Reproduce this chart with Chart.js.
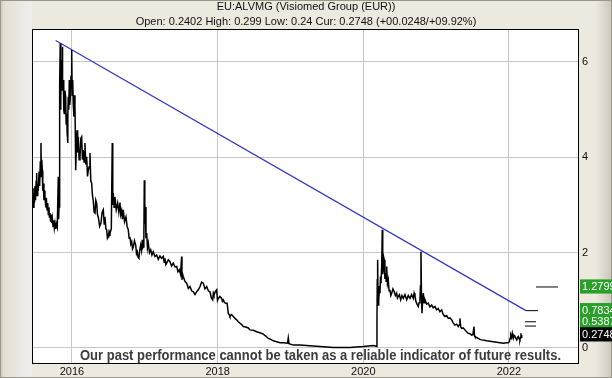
<!DOCTYPE html>
<html>
<head>
<meta charset="utf-8">
<script src="https://cdn.jsdelivr.net/npm/chart.js@4.4.4/dist/chart.umd.min.js"></script>
<style>
  html, body { margin: 0; padding: 0; background: #ece9de; }
  #wrap { width: 612px; height: 378px; }
</style>
</head>
<body>
<div id="wrap"><canvas id="chart" width="612" height="378"></canvas></div>
<script>
// ── Data ────────────────────────────────────────────────────────────────────
const titleLines = [
  'EU:ALVMG (Visiomed Group (EUR))',
  'Open: 0.2402 High: 0.299 Low: 0.24 Cur: 0.2748 (+00.0248/+09.92%)',
];
const footerText = 'Our past performance cannot be taken as a reliable indicator of future results.';

const xTickYears  = [2016, 2018, 2020, 2022];
const yTickValues = [0, 2, 4, 6];

// price: [decimal year, EUR]
const pricePoints = [
  [2015.447, 3.17], [2015.455, 2.95], [2015.462, 3.25], [2015.470, 2.95], [2015.478, 3.35],
  [2015.485, 3.05], [2015.493, 3.40], [2015.500, 3.10], [2015.508, 3.50], [2015.515, 3.67],
  [2015.522, 3.20], [2015.530, 3.45], [2015.537, 3.30], [2015.548, 3.70], [2015.556, 3.40],
  [2015.565, 3.90], [2015.574, 4.30], [2015.580, 3.60], [2015.586, 3.95], [2015.592, 3.73],
  [2015.599, 3.30], [2015.606, 3.45], [2015.615, 3.10], [2015.622, 3.30], [2015.629, 3.17],
  [2015.640, 2.95], [2015.648, 3.15], [2015.657, 2.90], [2015.666, 3.04], [2015.675, 2.80],
  [2015.684, 2.95], [2015.690, 2.75], [2015.698, 2.83], [2015.707, 2.65], [2015.715, 2.80],
  [2015.722, 2.62], [2015.730, 2.72], [2015.740, 2.55], [2015.750, 2.68], [2015.758, 2.52],
  [2015.767, 2.62], [2015.777, 2.50], [2015.788, 2.60], [2015.798, 2.54], [2015.812, 3.59],
  [2015.817, 2.70], [2015.822, 2.96], [2015.826, 3.80], [2015.831, 4.64], [2015.835, 5.50],
  [2015.839, 6.39], [2015.844, 5.00], [2015.849, 5.27], [2015.854, 5.80], [2015.859, 6.04],
  [2015.863, 5.50], [2015.867, 6.32], [2015.874, 5.40], [2015.881, 5.62], [2015.887, 5.00],
  [2015.894, 4.92], [2015.903, 5.40], [2015.913, 5.27], [2015.920, 4.70], [2015.927, 4.92],
  [2015.934, 4.50], [2015.941, 4.30], [2015.945, 4.90], [2015.949, 5.27], [2015.956, 5.00],
  [2015.963, 5.62], [2015.970, 5.10], [2015.977, 5.27], [2015.987, 5.70], [2015.996, 6.25],
  [2016.003, 5.30], [2016.010, 5.62], [2016.018, 5.10], [2016.027, 4.85], [2016.034, 5.30],
  [2016.041, 5.06], [2016.046, 4.50], [2016.051, 3.73], [2016.060, 4.20], [2016.069, 4.57],
  [2016.078, 4.10], [2016.087, 4.43], [2016.098, 3.95], [2016.110, 4.01], [2016.122, 4.40],
  [2016.133, 4.43], [2016.144, 3.95], [2016.155, 4.15], [2016.166, 3.90], [2016.178, 4.30],
  [2016.190, 3.85], [2016.202, 4.01], [2016.213, 3.60], [2016.224, 3.73], [2016.236, 3.80],
  [2016.247, 4.09], [2016.258, 3.50], [2016.270, 3.46], [2016.281, 3.20], [2016.292, 3.10],
  [2016.304, 2.85], [2016.316, 2.83], [2016.327, 3.10], [2016.339, 3.04], [2016.350, 2.80],
  [2016.361, 2.75], [2016.380, 2.55], [2016.398, 2.62], [2016.414, 2.85], [2016.430, 2.90],
  [2016.442, 2.60], [2016.453, 2.75], [2016.465, 2.50], [2016.476, 2.48], [2016.487, 2.30],
  [2016.498, 2.33], [2016.510, 2.45], [2016.522, 2.41], [2016.540, 2.50], [2016.553, 4.30],
  [2016.560, 3.00], [2016.567, 3.25], [2016.578, 2.95], [2016.590, 3.17], [2016.608, 2.90],
  [2016.627, 3.04], [2016.643, 2.85], [2016.659, 3.05], [2016.670, 2.80], [2016.682, 2.88],
  [2016.693, 2.70], [2016.704, 2.90], [2016.722, 2.65], [2016.741, 2.75], [2016.757, 2.55],
  [2016.773, 2.48], [2016.785, 2.30], [2016.796, 2.33], [2016.808, 2.18], [2016.820, 2.23],
  [2016.831, 2.08], [2016.842, 2.12], [2016.858, 2.25], [2016.875, 2.16], [2016.886, 1.98],
  [2016.897, 2.02], [2016.908, 1.90], [2016.920, 1.88], [2016.930, 2.05], [2016.943, 2.16],
  [2016.955, 2.05], [2016.965, 2.27], [2016.972, 2.10], [2016.979, 2.12], [2016.987, 2.30],
  [2016.993, 3.52], [2017.000, 2.60], [2017.006, 2.96], [2017.016, 2.30], [2017.026, 2.41],
  [2017.037, 2.10], [2017.048, 2.20], [2017.064, 2.00], [2017.081, 2.06], [2017.098, 1.95],
  [2017.116, 2.02], [2017.140, 1.92], [2017.163, 1.95], [2017.185, 1.86], [2017.208, 1.93],
  [2017.230, 1.88], [2017.254, 1.92], [2017.266, 1.80], [2017.277, 1.88], [2017.288, 1.75],
  [2017.300, 1.78], [2017.323, 1.85], [2017.346, 1.81], [2017.368, 1.72], [2017.391, 1.78],
  [2017.415, 1.70], [2017.438, 1.71], [2017.455, 1.60], [2017.473, 1.64], [2017.490, 1.55],
  [2017.506, 1.92], [2017.510, 1.43], [2017.519, 1.55], [2017.528, 1.50], [2017.551, 1.40],
  [2017.575, 1.36], [2017.598, 1.25], [2017.620, 1.29], [2017.643, 1.20], [2017.666, 1.18],
  [2017.689, 1.12], [2017.712, 1.18], [2017.735, 1.22], [2017.758, 1.29], [2017.780, 1.38],
  [2017.803, 1.36], [2017.826, 1.24], [2017.850, 1.29], [2017.872, 1.20], [2017.895, 1.18],
  [2017.914, 1.05], [2017.932, 1.01], [2017.941, 1.15], [2017.950, 1.11], [2017.968, 1.18],
  [2017.987, 1.22], [2017.998, 1.00], [2018.009, 1.04], [2018.032, 1.08], [2018.055, 1.04],
  [2018.066, 0.98], [2018.077, 1.01], [2018.096, 0.95], [2018.115, 0.94], [2018.130, 0.94],
  [2018.146, 0.73], [2018.158, 0.70], [2018.169, 0.66], [2018.192, 0.70], [2018.215, 0.66],
  [2018.238, 0.62], [2018.261, 0.59], [2018.284, 0.55], [2018.307, 0.52], [2018.330, 0.49],
  [2018.352, 0.45], [2018.387, 0.44], [2018.421, 0.42], [2018.444, 0.38], [2018.490, 0.37],
  [2018.536, 0.34], [2018.580, 0.32], [2018.627, 0.29], [2018.660, 0.25], [2018.695, 0.20],
  [2018.730, 0.18], [2018.764, 0.15], [2018.810, 0.13], [2018.856, 0.11], [2018.908, 0.11],
  [2018.960, 0.10], [2018.970, 0.21], [2018.980, 0.09], [2019.039, 0.06], [2019.130, 0.06],
  [2019.223, 0.05], [2019.310, 0.04], [2019.405, 0.03], [2019.500, 0.02], [2019.588, 0.01],
  [2019.700, 0.01], [2019.817, 0.01], [2019.900, 0.02], [2020.000, 0.03], [2020.070, 0.04],
  [2020.137, 0.05], [2020.165, 0.04], [2020.184, 0.03], [2020.188, 0.59], [2020.192, 1.43],
  [2020.197, 1.85], [2020.203, 0.90], [2020.209, 1.30], [2020.215, 1.01], [2020.222, 1.25],
  [2020.229, 1.15], [2020.236, 1.50], [2020.243, 1.36], [2020.252, 1.70], [2020.261, 2.48],
  [2020.267, 1.55], [2020.274, 1.64], [2020.281, 1.90], [2020.288, 1.85], [2020.297, 1.45],
  [2020.307, 1.57], [2020.314, 1.40], [2020.321, 1.71], [2020.332, 1.35], [2020.343, 1.43],
  [2020.354, 1.20], [2020.366, 1.22], [2020.378, 1.10], [2020.390, 1.15], [2020.407, 1.24],
  [2020.425, 1.18], [2020.441, 1.10], [2020.458, 1.15], [2020.469, 1.05], [2020.480, 1.08],
  [2020.496, 1.12], [2020.513, 1.01], [2020.531, 1.10], [2020.549, 1.04], [2020.572, 1.12],
  [2020.596, 1.01], [2020.618, 1.10], [2020.641, 1.04], [2020.663, 1.12], [2020.686, 1.04],
  [2020.698, 1.15], [2020.710, 1.08], [2020.722, 0.98], [2020.733, 0.94], [2020.744, 0.90],
  [2020.755, 0.87], [2020.766, 0.95], [2020.778, 1.01], [2020.785, 1.30], [2020.792, 2.02],
  [2020.799, 1.10], [2020.806, 0.73], [2020.815, 1.00], [2020.824, 1.15], [2020.835, 0.95],
  [2020.847, 1.01], [2020.870, 0.92], [2020.892, 0.94], [2020.915, 0.86], [2020.939, 0.90],
  [2020.961, 0.84], [2020.984, 0.87], [2021.006, 0.80], [2021.029, 0.83], [2021.052, 0.76],
  [2021.076, 0.80], [2021.098, 0.70], [2021.121, 0.66], [2021.144, 0.68], [2021.167, 0.62],
  [2021.190, 0.63], [2021.214, 0.59], [2021.236, 0.52], [2021.259, 0.48], [2021.282, 0.50],
  [2021.304, 0.45], [2021.316, 0.48], [2021.327, 0.62], [2021.338, 0.44], [2021.351, 0.41],
  [2021.373, 0.42], [2021.396, 0.38], [2021.418, 0.34], [2021.441, 0.31], [2021.465, 0.30],
  [2021.488, 0.27], [2021.505, 0.28], [2021.520, 0.45], [2021.527, 0.26], [2021.533, 0.24],
  [2021.556, 0.22], [2021.579, 0.20], [2021.603, 0.18], [2021.626, 0.17], [2021.660, 0.16],
  [2021.694, 0.15], [2021.740, 0.14], [2021.785, 0.13], [2021.830, 0.12], [2021.877, 0.11],
  [2021.923, 0.10], [2021.969, 0.11], [2021.990, 0.11], [2022.005, 0.13], [2022.015, 0.20],
  [2022.024, 0.27], [2022.035, 0.22], [2022.046, 0.31], [2022.053, 0.25], [2022.060, 0.20],
  [2022.072, 0.26], [2022.083, 0.24], [2022.095, 0.20], [2022.107, 0.17], [2022.118, 0.22],
  [2022.129, 0.24], [2022.140, 0.19], [2022.151, 0.17], [2022.158, 0.22], [2022.165, 0.31],
  [2022.170, 0.22], [2022.175, 0.2748],
];

// blue trend line
const trendDates  = [2015.776, 2022.234];
const trendValues = [6.45, 0.7834];

// short target markers at the right end
const markerStarts = [2022.371, 2022.234, 2022.220, 2022.220];
const markerEnds   = [2022.673, 2022.398, 2022.371, 2022.371];
const markerValues = [1.2799, 0.7834, 0.55, 0.46];

// coloured level labels on the right axis
const levelValues = [1.2799, 0.7834, 0.5387, 0.2748];
const levelColors = ['#2b9f2b', '#2b9f2b', '#2b9f2b', '#000000'];

// ── Helpers ────────────────────────────────────────────────────────────────
const FONT = '"Liberation Sans", Arial, sans-serif';
const toXY = (xs, ys) => xs.map((x, i) => ({ x, y: ys[i] }));
const levelIndex = v => levelValues.indexOf(v);

const frame = {
  id: 'frame',
  beforeDraw(chart) {
    const { ctx, width, height, chartArea: a } = chart;
    ctx.save();
    ctx.fillStyle = '#ece9de';
    ctx.fillRect(0, 0, width, height);
    // left shaded band
    const gl = ctx.createLinearGradient(0, 0, a.left, 0);
    gl.addColorStop(0, '#c9c5b7');
    gl.addColorStop(0.12, '#e3e0d3');
    gl.addColorStop(0.75, '#ebeae6');
    gl.addColorStop(1, '#efefef');
    ctx.fillStyle = gl;
    ctx.fillRect(0, 0, a.left, height);
    // right shaded edge
    const gr = ctx.createLinearGradient(width - 16, 0, width, 0);
    gr.addColorStop(0, 'rgba(200,196,184,0)');
    gr.addColorStop(1, '#cbc7ba');
    ctx.fillStyle = gr;
    ctx.fillRect(width - 16, 0, 16, height);
    ctx.strokeStyle = '#9a968a';
    ctx.strokeRect(0.5, 0.5, width - 1, height - 1);
    ctx.fillStyle = '#ffffff';
    ctx.fillRect(a.left, a.top, a.right - a.left, a.bottom - a.top);
    ctx.restore();
  },
  afterDatasetsDraw(chart) {
    const { ctx, chartArea: a } = chart;
    ctx.save();
    ctx.font = 'bold 14px "Liberation Sans Narrow", "Arial Narrow", ' + FONT;
    const w = ctx.measureText(footerText).width;
    ctx.translate(a.left + 288.5, a.bottom - 8);
    ctx.scale(481 / w, 1);
    ctx.textAlign = 'center';
    ctx.textBaseline = 'middle';
    ctx.fillStyle = '#3c3c3c';
    ctx.fillText(footerText, 0, 0);
    ctx.restore();
  },
  afterDraw(chart) {
    const { ctx, chartArea: a } = chart;
    ctx.save();
    ctx.strokeStyle = '#000';
    ctx.lineWidth = 1;
    ctx.strokeRect(Math.round(a.left) + 0.5, Math.round(a.top) + 0.5,
      Math.round(a.right - a.left) - 1, Math.round(a.bottom - a.top) - 1);
    ctx.restore();
  },
};

// ── Chart ──────────────────────────────────────────────────────────────────
const datasets = [
  { data: pricePoints.map(([x, y]) => ({ x, y })), borderColor: '#000', borderWidth: 1.5 },
  { data: toXY(trendDates, trendValues), borderColor: '#3434c8', borderWidth: 1.2 },
  ...markerValues.map((v, i) => ({
    data: toXY([markerStarts[i], markerEnds[i]], [v, v]), borderColor: '#000', borderWidth: 1,
  })),
].map(d => ({ ...d, pointRadius: 0, tension: 0, fill: false }));

new Chart(document.getElementById('chart'), {
  type: 'line',
  data: { datasets },
  plugins: [frame],
  options: {
    responsive: false,
    animation: false,
    layout: { padding: 0 },
    plugins: {
      legend: { display: false },
      tooltip: { enabled: false },
      title: {
        display: true,
        text: titleLines,
        color: '#111',
        padding: 0,
        font: { family: FONT, size: 11, weight: 'normal', lineHeight: '14.5px' },
      },
    },
    scales: {
      x: {
        type: 'linear',
        min: 2015.451,
        max: 2022.962,
        afterBuildTicks: s => { s.ticks = xTickYears.map(v => ({ value: v })); },
        afterFit: s => { s.height = 14; },
        grid: { color: '#c6c6c6', drawTicks: false },
        border: { display: false },
        ticks: {
          autoSkip: false, maxRotation: 0, padding: 1,
          color: '#111', font: { family: FONT, size: 11 },
          callback: v => String(v),
        },
      },
      y: {
        type: 'linear',
        position: 'right',
        min: -0.336,
        max: 6.692,
        afterBuildTicks: s => {
          s.ticks = yTickValues.concat(levelValues).map(v => ({ value: v }));
        },
        afterFit: s => { s.width = 33; },
        grid: {
          drawTicks: false,
          color: c => (levelIndex(c.tick.value) >= 0 ? 'rgba(0,0,0,0)' : '#c6c6c6'),
        },
        border: { display: false },
        ticks: {
          autoSkip: false, padding: 3,
          font: { family: FONT, size: 11 },
          color: c => (levelIndex(c.tick.value) >= 0 ? '#fff' : '#111'),
          showLabelBackdrop: c => levelIndex(c.tick.value) >= 0,
          backdropColor: c => levelColors[levelIndex(c.tick.value)] || 'rgba(0,0,0,0)',
          backdropPadding: { left: 2, right: 8, top: 1, bottom: 0 },
          callback: v => (levelIndex(v) >= 0 ? v.toFixed(4) : String(v)),
        },
      },
      yl: {
        type: 'linear',
        position: 'left',
        display: true,
        afterFit: s => { s.width = 32; },
        grid: { display: false },
        border: { display: false },
        ticks: { display: false },
      },
    },
  },
});
</script>
</body>
</html>
